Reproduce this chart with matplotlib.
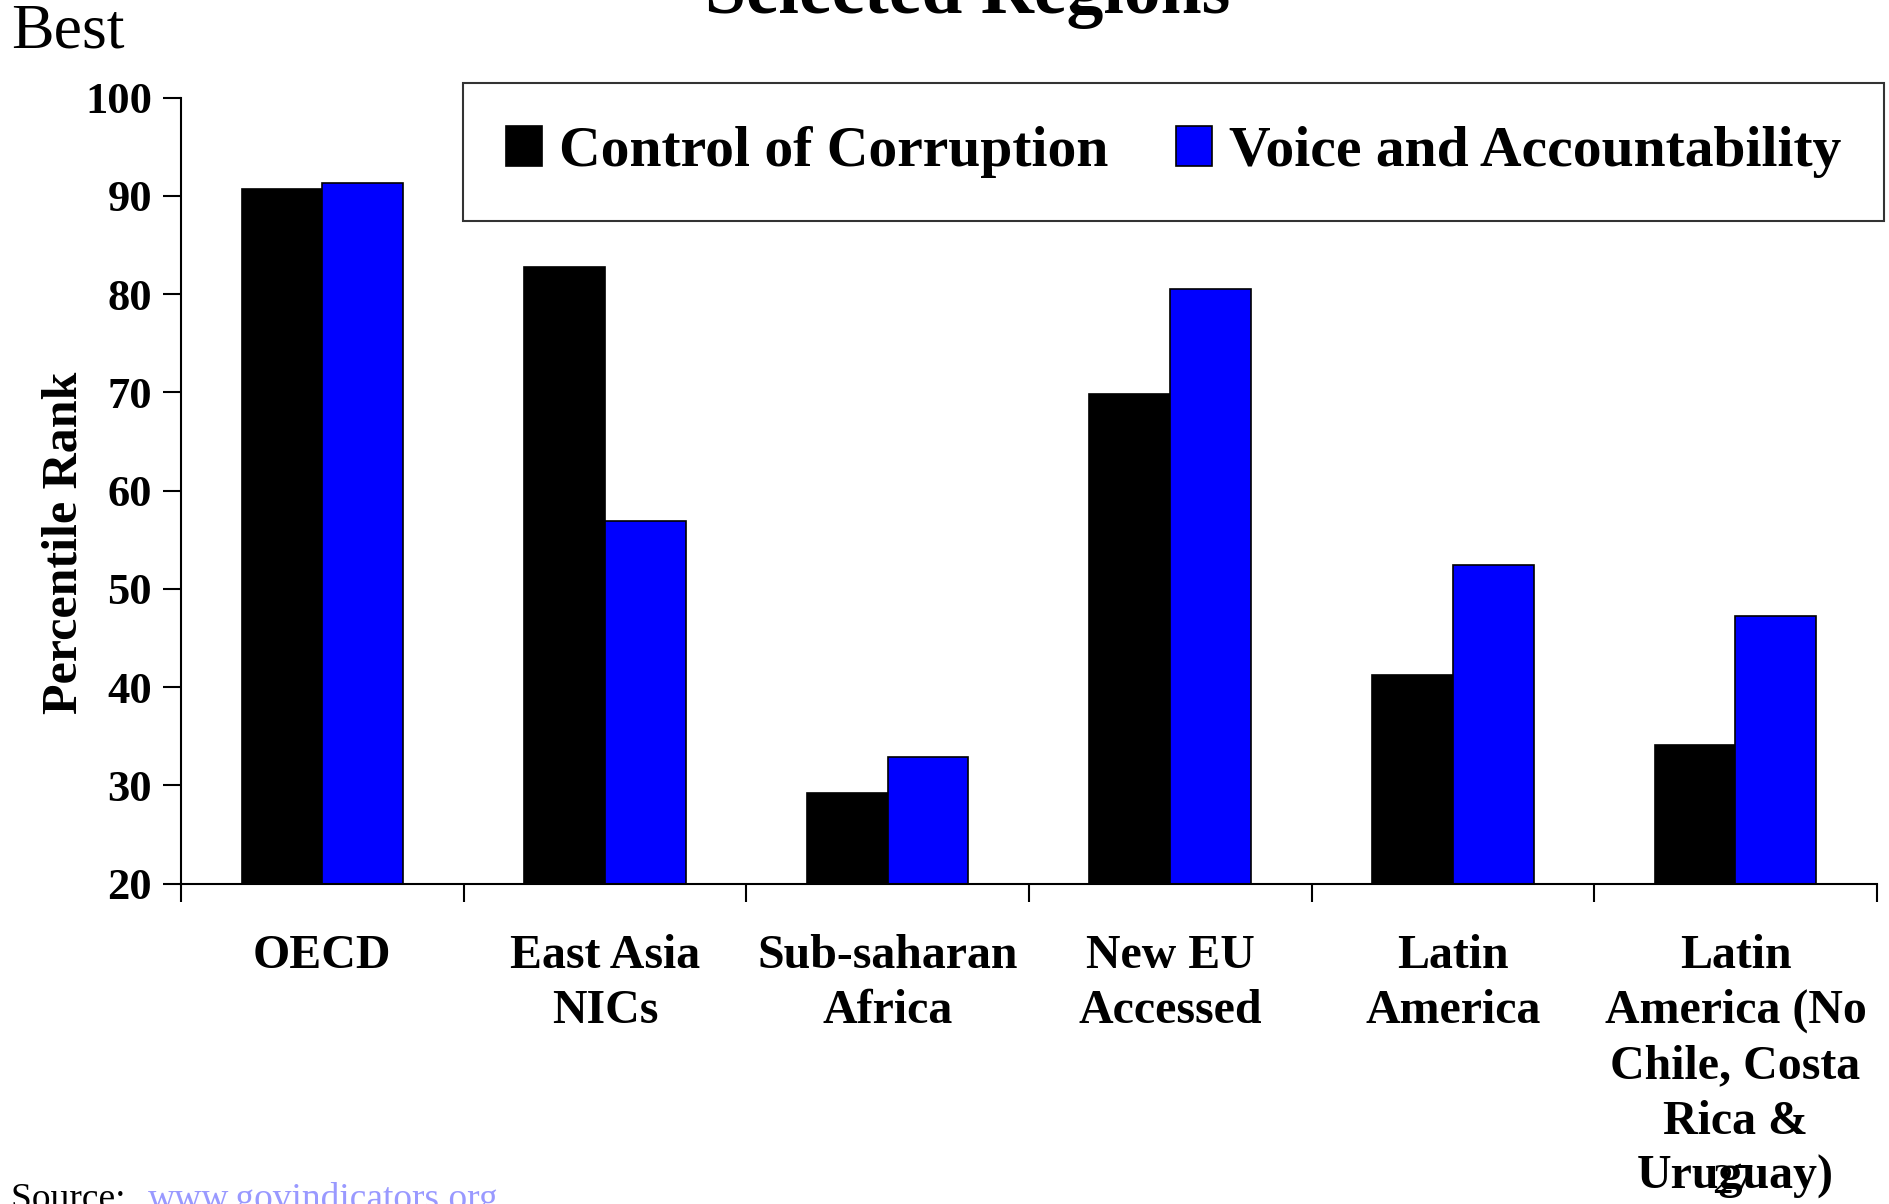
import matplotlib
matplotlib.use("Agg")
import matplotlib.pyplot as plt
import numpy as np

categories = ["OECD", "East Asia\nNICs", "Sub-saharan\nAfrica", "New EU\nAccessed",
              "Latin\nAmerica", "Latin\nAmerica (No\nChile, Costa\nRica &\nUruguay)"]
control_of_corruption = [90.7, 82.8, 29.2, 69.8, 41.2, 34.1]
voice_and_accountability = [91.3, 56.9, 32.9, 80.5, 52.4, 47.2]
yticks = [20, 30, 40, 50, 60, 70, 80, 90, 100]

plt.rcParams['font.family'] = ['Liberation Serif', 'DejaVu Serif']

fig = plt.figure(figsize=(18.9, 12.04), dpi=100)
ax = fig.add_axes([0.0958, 0.2661, 0.8972, 0.6529])

x = np.arange(len(categories))
w = 0.286
ax.bar(x - w/2, control_of_corruption, w, color='black', edgecolor='black',
       linewidth=1.2, label='Control of Corruption')
ax.bar(x + w/2, voice_and_accountability, w, color='#0000FF', edgecolor='black',
       linewidth=1.2, label='Voice and Accountability')

ax.set_ylim(20, 100)
ax.set_xlim(-0.5, len(categories) - 0.5)
ax.set_yticks(yticks)
ax.set_yticklabels([str(v) for v in yticks], fontsize=32, fontweight='bold')
ax.set_xticks(np.arange(len(categories) + 1) - 0.5)
ax.set_xticklabels([])
ax.set_xticks(x, minor=True)
ax.set_xticklabels(categories, minor=True, fontsize=34.5, fontweight='bold', linespacing=1.33)
ax.tick_params(axis='x', which='minor', length=0, pad=36)
ax.tick_params(axis='x', which='major', length=13, width=1.5, direction='out')
ax.tick_params(axis='y', length=13, width=1.5, direction='out', pad=8)
for s in ['top', 'right']:
    ax.spines[s].set_visible(False)
for s in ['left', 'bottom']:
    ax.spines[s].set_linewidth(1.5)

ax.set_ylabel("Percentile Rank", fontsize=36, fontweight='bold')
ax.yaxis.set_label_coords(-0.055, 0.433)

leg = ax.legend(loc='upper left', bbox_to_anchor=(0.1663, 1.0184), ncol=2,
                prop={'weight': 'bold', 'size': 41.5}, frameon=True, fancybox=False,
                edgecolor='black', handlelength=0.63, handleheight=0.69, handletextpad=0.29,
                columnspacing=1.18, borderpad=0.74, borderaxespad=0)
leg.get_frame().set_linewidth(1.5)

fig.text(0.006, 0.973, "Best", fontsize=46, ha='left', va='center')
fig.text(0.512, 0.989, "Selected Regions", fontsize=53, fontweight='bold',
         ha='center', va='baseline')
fig.text(0.006, -0.004, "Source:  ", fontsize=27, ha='left', va='baseline')
fig.text(0.078, -0.004, "www.govindicators.org", fontsize=27, ha='left', va='baseline',
         color='#9999FF')
fig.text(0.906, 0.009, "27", fontsize=30, ha='left', va='baseline')

fig.savefig("out.png", dpi=100)
